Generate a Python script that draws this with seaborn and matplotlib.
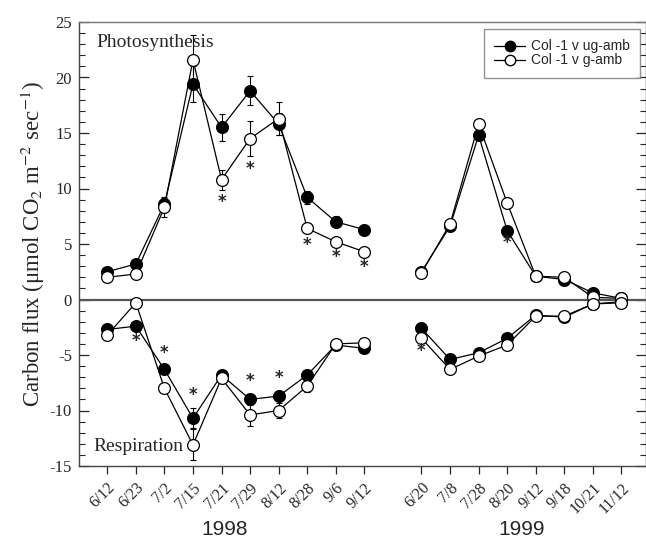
import numpy as np
import pandas as pd
import matplotlib
matplotlib.use('Agg')
import matplotlib.pyplot as plt
import matplotlib.transforms as mtransforms
from matplotlib.lines import Line2D
import seaborn as sns

# ---------------- data ----------------
dates98 = ['6/12', '6/23', '7/2', '7/15', '7/21', '7/29', '8/12', '8/28', '9/6', '9/12']
dates99 = ['6/20', '7/8', '7/28', '8/20', '9/12', '9/18', '10/21', '11/12']

# photosynthesis (positive flux)
ps98_ug = [2.5, 3.2, 8.6, 19.4, 15.5, 18.8, 15.8, 9.2, 7.0, 6.3]
ps98_g = [2.0, 2.3, 8.3, 21.6, 10.8, 14.5, 16.3, 6.4, 5.2, 4.3]
ps98_ug_err = [0.2, 0.2, 0.5, 1.6, 1.2, 1.3, 1.0, 0.6, 0.5, 0.4]
ps98_g_err = [0.2, 0.2, 0.9, 2.2, 0.9, 1.6, 1.5, 0.4, 0.3, 0.3]
ps99_ug = [2.5, 6.6, 14.8, 6.2, 2.1, 1.8, 0.6, 0.1]
ps99_g = [2.4, 6.8, 15.8, 8.7, 2.1, 2.0, 0.2, 0.1]

# respiration (negative flux)
rs98_ug = [-2.7, -2.4, -6.3, -10.7, -6.8, -9.0, -8.7, -6.8, -4.1, -4.4]
rs98_g = [-3.2, -0.3, -8.0, -13.1, -7.1, -10.4, -10.0, -7.8, -4.0, -3.9]
rs98_ug_err = [0.2, 0.2, 0.3, 0.9, 0.2, 0.5, 0.4, 0.3, 0.2, 0.2]
rs98_g_err = [0.2, 0.2, 0.4, 1.4, 0.2, 1.0, 0.7, 0.5, 0.2, 0.2]
rs99_ug = [-2.6, -5.4, -4.8, -3.5, -1.4, -1.6, -0.4, -0.2]
rs99_g = [-3.5, -6.3, -5.1, -4.1, -1.5, -1.5, -0.4, -0.3]

# significance stars: index -> side of the pair of points
ps98_sig = {4: 'below', 5: 'below', 7: 'below', 8: 'below', 9: 'below'}
ps99_sig = {3: 'below'}
rs98_sig = {1: 'below', 2: 'above', 3: 'above', 5: 'above', 6: 'above'}
rs99_sig = {0: 'below'}

pos98 = list(range(len(dates98)))
pos99 = list(range(len(dates98) + 1, len(dates98) + 1 + len(dates99)))

# long table for seaborn
rows = []
blocks = [
    ('ps98', pos98, ps98_ug, ps98_g),
    ('rs98', pos98, rs98_ug, rs98_g),
    ('ps99', pos99, ps99_ug, ps99_g),
    ('rs99', pos99, rs99_ug, rs99_g),
]
for seg, pos, ug, g in blocks:
    for p, a, b in zip(pos, ug, g):
        rows.append({'pos': p, 'flux': a, 'series': 'ug', 'segment': seg})
        rows.append({'pos': p, 'flux': b, 'series': 'g', 'segment': seg})
df = pd.DataFrame(rows)

# ---------------- style ----------------
sns.set_style('ticks')
plt.rcParams['font.family'] = ['Liberation Serif', 'DejaVu Serif']
plt.rcParams['mathtext.fontset'] = 'stix'
plt.rcParams['axes.unicode_minus'] = False

fig = plt.figure(figsize=(6.46, 5.42), dpi=100)
ax = fig.add_axes([79 / 646, 1 - 466 / 542, 567 / 646, 444 / 542])

ax.axhline(0, color='#555555', lw=1.6, zorder=1)

# error bars (1998 only)
eb = dict(fmt='none', ecolor='black', elinewidth=0.8, capsize=2.5, capthick=0.8, zorder=2)
ax.errorbar(pos98, ps98_ug, yerr=ps98_ug_err, **eb)
ax.errorbar(pos98, ps98_g, yerr=ps98_g_err, **eb)
ax.errorbar(pos98, rs98_ug, yerr=rs98_ug_err, **eb)
ax.errorbar(pos98, rs98_g, yerr=rs98_g_err, **eb)

common = dict(x='pos', y='flux', units='segment', estimator=None, color='black',
              lw=0.9, marker='o', markersize=8.5, markeredgecolor='black',
              markeredgewidth=0.9, legend=False, ax=ax)
sns.lineplot(data=df[df.series == 'ug'], markerfacecolor='black', zorder=3, **common)
sns.lineplot(data=df[df.series == 'g'], markerfacecolor='white', zorder=4, **common)

# significance stars placed relative to the plotted values
def stars(pos, ug, g, eu, eg, sig):
    for i, side in sig.items():
        if side == 'below':
            y = min(ug[i] - eu[i], g[i] - eg[i]) - 1.1
        else:
            y = max(ug[i] + eu[i], g[i] + eg[i]) + 1.2
        ax.text(pos[i], y, '*', ha='center', va='center', fontsize=12,
                family='DejaVu Sans', fontweight='bold', zorder=5)

zero99 = [0] * len(dates99)
stars(pos98, ps98_ug, ps98_g, ps98_ug_err, ps98_g_err, ps98_sig)
stars(pos98, rs98_ug, rs98_g, rs98_ug_err, rs98_g_err, rs98_sig)
stars(pos99, ps99_ug, ps99_g, zero99, zero99, ps99_sig)
stars(pos99, rs99_ug, rs99_g, zero99, zero99, rs99_sig)

# ---------------- axes ----------------
ax.set_xlim(-0.99, 18.86)
ax.set_ylim(-15, 25)
ax.set_xticks(pos98 + pos99)
ax.set_xticklabels(dates98 + dates99, rotation=45, ha='right', va='top',
                   rotation_mode='anchor', fontsize=11.5)
ax.set_yticks(np.arange(-15, 26, 5))
ax.set_yticks(np.arange(-15, 26, 1), minor=True)
ax.tick_params(axis='y', which='both', direction='in', left=True, right=True,
               labelsize=12, pad=5)
ax.tick_params(axis='y', which='major', length=7, width=0.9)
ax.tick_params(axis='y', which='minor', length=4, width=0.8)
ax.tick_params(axis='x', which='major', direction='out', length=6, width=0.9,
               top=False, pad=4)
ax.tick_params(axis='x', which='minor', bottom=False, top=False)
for s in ax.spines.values():
    s.set_color('#444444')
    s.set_linewidth(1.0)
ax.spines['top'].set_color('#777777')

ax.set_xlabel('')
ax.set_ylabel('Carbon flux (\u03bcmol CO$_2$ m$^{-2}$ sec$^{-1}$)', fontsize=16.5, labelpad=2)

ax.text(0.03, 0.953, 'Photosynthesis', transform=ax.transAxes, fontsize=14,
        ha='left', va='center')
ax.text(0.025, 0.045, 'Respiration', transform=ax.transAxes, fontsize=14,
        ha='left', va='center')

trans = mtransforms.blended_transform_factory(ax.transData, ax.transAxes)
ax.text(np.mean(pos98) - 0.4, -0.144, '1998', transform=trans, ha='center',
        va='center', fontsize=15, family='Liberation Sans')
ax.text(np.mean(pos99), -0.144, '1999', transform=trans, ha='center',
        va='center', fontsize=15, family='Liberation Sans')

handles = [
    Line2D([], [], color='black', lw=0.9, marker='o', markersize=7.5,
           markerfacecolor='black', markeredgecolor='black'),
    Line2D([], [], color='black', lw=0.9, marker='o', markersize=7.5,
           markerfacecolor='white', markeredgecolor='black'),
]
leg = fig.legend(handles, ['Col -1 v ug-amb', 'Col -1 v g-amb'],
                 loc='upper left', bbox_to_anchor=(484 / 646, 1 - 29 / 542),
                 frameon=True, fancybox=False, edgecolor='#777777',
                 prop={'family': 'Liberation Sans', 'size': 10},
                 handlelength=2.2, handletextpad=0.4, borderpad=0.75,
                 labelspacing=0.0, borderaxespad=0)
leg.get_frame().set_linewidth(1.0)

fig.savefig('out.png', dpi=100)
